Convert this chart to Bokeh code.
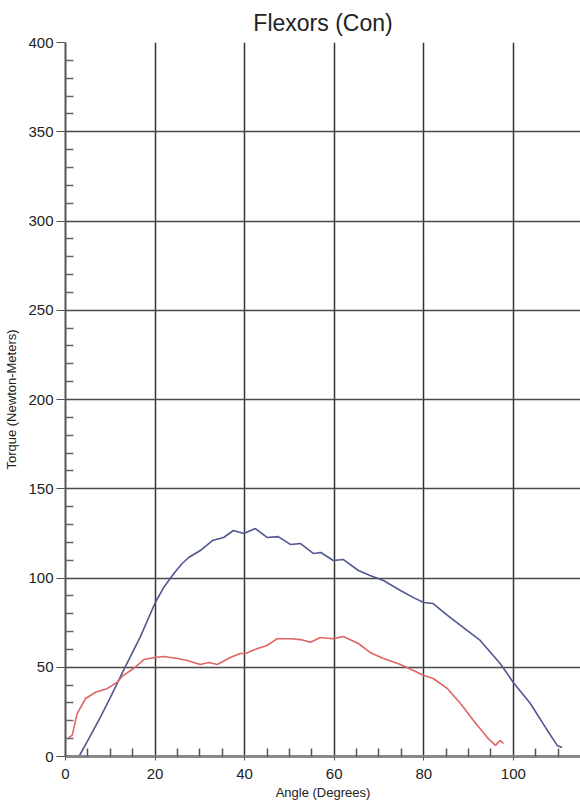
from bokeh.plotting import figure
from bokeh.models import Range1d, FixedTicker
from bokeh.embed import file_html
from bokeh.resources import INLINE

# ---- data ----
title_text = "Flexors (Con)"
x_label = "Angle (Degrees)"
y_label = "Torque (Newton-Meters)"

x_major = [0, 20, 40, 60, 80, 100]
x_minor = [5, 10, 15, 25, 30, 35, 45, 50, 55, 65, 70, 75, 85, 90, 95, 105, 110]
y_major = [0, 50, 100, 150, 200, 250, 300, 350, 400]
y_minor = [v for v in range(10, 400, 10) if v % 50 != 0]

blue_x = [2, 3, 5, 7.8, 10, 12.7, 16.7, 20, 22, 24.2, 26, 27.5, 30.1, 32.8, 35.3,
          37.5, 39.8, 42.4, 45, 47.5, 50.2, 52.5, 55.4, 57, 59.8, 62, 65.4, 68,
          71, 74.8, 77.7, 80, 82.1, 85.3, 88.2, 92.6, 97.1, 100, 103.8, 107.6,
          109.8, 110.9]
blue_y = [0, 0, 9, 22, 33, 47, 67, 86, 95, 102.5, 108, 111.5, 115.4, 121, 122.7,
          126.6, 124.9, 127.7, 122.7, 123.2, 118.8, 119.3, 113.7, 114.3, 109.8,
          110.4, 104.2, 101.4, 98.6, 93, 89, 86.3, 85.7, 79, 73.4, 65, 52, 41.5,
          29.7, 14.6, 6.2, 5]

red_x = [0.7, 1.5, 2.6, 4.5, 6.7, 9.3, 11.5, 12.7, 15.2, 17.5, 20, 21.9, 25, 27.2,
         30.1, 32, 33.9, 36.8, 39, 40.2, 42.9, 45, 47.3, 50.2, 52.5, 54.7, 56.9,
         59.8, 62, 65.4, 68, 71, 74.8, 77.7, 80, 82.1, 85.3, 88.2, 91.1, 94.2,
         96, 97.1, 97.8]
red_y = [10.6, 11.8, 24, 32.5, 36, 38, 41.5, 45, 49.3, 54.3, 55.5, 56, 54.9, 53.8,
         51.5, 52.7, 51.5, 55.5, 57.7, 57.7, 60.5, 62.2, 66, 66, 65.5, 64, 66.7,
         66, 67.2, 63.3, 58.3, 54.9, 51.5, 48.2, 45.4, 43.7, 38, 29.7, 20.2, 10.6,
         6.2, 9, 7.3]

FONT = "Liberation Sans"

p = figure(width=580, height=806, output_backend="svg", toolbar_location=None,
           x_range=Range1d(0, 115), y_range=Range1d(0, 400),
           min_border_left=65, min_border_right=0, min_border_top=42,
           min_border_bottom=50)
p.background_fill_color = "white"
p.border_fill_color = "white"
p.outline_line_color = None

# title
p.title.text = title_text
p.title.align = "center"
p.title.text_font = FONT
p.title.text_font_size = "23px"
p.title.text_font_style = "normal"
p.title.text_color = "#222222"
p.title.offset = -8
p.title.standoff = 14

# grids
p.xgrid.ticker = FixedTicker(ticks=x_major)
p.ygrid.ticker = FixedTicker(ticks=y_major)
p.xgrid.grid_line_color = "#333333"
p.xgrid.grid_line_width = 1.5
p.ygrid.grid_line_color = "#4a4a4a"
p.ygrid.grid_line_width = 1.5

# x axis
xa = p.xaxis[0]
xa.ticker = FixedTicker(ticks=x_major, minor_ticks=x_minor)
xa.axis_line_color = "#888888"
xa.axis_line_width = 3
xa.major_tick_in = 0
xa.major_tick_out = 4
xa.major_tick_line_color = "#555555"
xa.minor_tick_in = 8
xa.minor_tick_out = 0
xa.minor_tick_line_color = "#555555"
xa.minor_tick_line_width = 1.5
xa.major_label_text_font = FONT
xa.major_label_text_font_size = "15px"
xa.major_label_text_color = "#222222"
xa.major_label_standoff = 8
xa.axis_label = x_label
xa.axis_label_text_font = FONT
xa.axis_label_text_font_size = "13px"
xa.axis_label_text_font_style = "normal"
xa.axis_label_text_color = "#222222"
xa.axis_label_standoff = 3

# y axis
ya = p.yaxis[0]
ya.ticker = FixedTicker(ticks=y_major, minor_ticks=y_minor)
ya.axis_line_color = "#555555"
ya.axis_line_width = 2
ya.major_tick_in = 0
ya.major_tick_out = 9
ya.major_tick_line_color = "#555555"
ya.minor_tick_in = 8
ya.minor_tick_out = 0
ya.minor_tick_line_color = "#666666"
ya.minor_tick_line_width = 1.5
ya.major_label_text_font = FONT
ya.major_label_text_font_size = "15px"
ya.major_label_text_color = "#222222"
ya.major_label_standoff = 3
ya.axis_label = y_label
ya.axis_label_text_font = FONT
ya.axis_label_text_font_size = "13px"
ya.axis_label_text_font_style = "normal"
ya.axis_label_text_color = "#222222"
ya.axis_label_standoff = 6

# curves
p.line(blue_x, blue_y, line_color="#4f5890", line_width=1.6)
p.line(red_x, red_y, line_color="#e06464", line_width=1.6)

open("out.html", "w").write(file_html(p, INLINE))
